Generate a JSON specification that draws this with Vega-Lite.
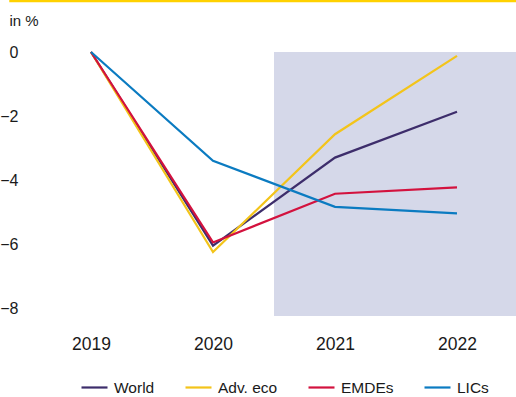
{
  "$schema": "https://vega.github.io/schema/vega-lite/v6.json",
  "autosize": {"type": "none"},
  "width": 488,
  "height": 316,
  "padding": {"left": 30, "top": 0, "right": 0, "bottom": 81},
  "background": "white",
  "config": {
    "view": {"stroke": null},
    "font": "Liberation Sans",
    "axis": {"grid": false, "domain": false, "ticks": false, "labelColor": "#1a1a1a"}
  },
  "datasets": {
    "growth": [
      {"year": 2019, "series": "World", "value": 0},
      {"year": 2020, "series": "World", "value": -6.05},
      {"year": 2021, "series": "World", "value": -3.3},
      {"year": 2022, "series": "World", "value": -1.87},
      {"year": 2019, "series": "Adv. eco", "value": 0},
      {"year": 2020, "series": "Adv. eco", "value": -6.25},
      {"year": 2021, "series": "Adv. eco", "value": -2.57},
      {"year": 2022, "series": "Adv. eco", "value": -0.12},
      {"year": 2019, "series": "EMDEs", "value": 0},
      {"year": 2020, "series": "EMDEs", "value": -5.95},
      {"year": 2021, "series": "EMDEs", "value": -4.43},
      {"year": 2022, "series": "EMDEs", "value": -4.23},
      {"year": 2019, "series": "LICs", "value": 0},
      {"year": 2020, "series": "LICs", "value": -3.4},
      {"year": 2021, "series": "LICs", "value": -4.84},
      {"year": 2022, "series": "LICs", "value": -5.04}
    ],
    "forecast": [
      {"start": 2020.5, "end": 2022.5, "top": 0, "bottom": -8.25}
    ],
    "banner": [
      {"from": 2018.33, "to": 2022.6, "level": 1.6}
    ]
  },
  "layer": [
    {
      "data": {"name": "forecast"},
      "mark": {"type": "rect", "color": "#d5d8e9"},
      "encoding": {
        "x": {"field": "start", "type": "quantitative", "scale": {"domain": [2018.5, 2022.5], "nice": false, "zero": false},
          "axis": {"values": [2019, 2020, 2021, 2022], "format": "d", "title": null, "labelFontSize": 17.5, "labelPadding": 19}},
        "x2": {"field": "end"},
        "y": {"field": "top", "type": "quantitative", "scale": {"domain": [-8.25, 1.625], "nice": false, "zero": false},
          "axis": {"values": [0, -2, -4, -6, -8], "labelFontSize": 16, "labelPadding": 12, "labelAlign": "right",
            "title": "in %", "titleAngle": 0, "titleAlign": "left", "titleBaseline": "alphabetic",
            "titleX": -21, "titleY": 25.5, "titleFontSize": 15, "titleFontWeight": "normal", "titleColor": "#1a1a1a"}},
        "y2": {"field": "bottom"}
      }
    },
    {
      "mark": {"type": "rule", "color": "#7f7f7f", "strokeWidth": 2.5},
      "encoding": {"y": {"datum": 0, "type": "quantitative"}}
    },
    {
      "data": {"name": "banner"},
      "mark": {"type": "rule", "color": "#ffd100", "strokeWidth": 3},
      "encoding": {
        "x": {"field": "from", "type": "quantitative"},
        "x2": {"field": "to"},
        "y": {"field": "level", "type": "quantitative"}
      }
    },
    {
      "data": {"name": "growth"},
      "mark": {"type": "line", "strokeWidth": 2.2},
      "encoding": {
        "x": {"field": "year", "type": "quantitative"},
        "y": {"field": "value", "type": "quantitative"},
        "color": {
          "field": "series", "type": "nominal",
          "scale": {"domain": ["World", "Adv. eco", "EMDEs", "LICs"], "range": ["#3d2d6b", "#f3c41a", "#d3123e", "#0b7bc1"]},
          "legend": {
            "title": null, "orient": "none", "direction": "horizontal", "legendX": 50, "legendY": 373,
            "symbolType": "stroke", "symbolSize": 676, "symbolStrokeWidth": 2.2,
            "labelFontSize": 15.5, "labelColor": "#1a1a1a", "labelOffset": 5, "columnPadding": 26, "padding": 0
          }
        },
        "order": {"field": "year"}
      }
    }
  ]
}
